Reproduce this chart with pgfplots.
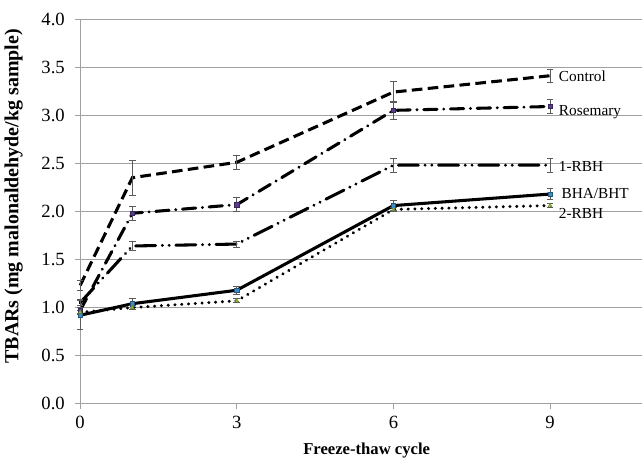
\documentclass[border=0pt]{standalone}
\usepackage{pgfplots}
\pgfplotsset{compat=1.18}
\usepackage{fontspec}
\setmainfont{Liberation Serif}
\definecolor{gridgray}{RGB}{160,160,160}
\definecolor{errgray}{RGB}{90,90,90}
\definecolor{rosecol}{RGB}{90,60,140}
\definecolor{bhacol}{RGB}{60,140,200}
\definecolor{rbhcol}{RGB}{150,190,60}
\begin{document}
\begin{tikzpicture}[x=1pt,y=1pt]
\begin{axis}[
  scale only axis,
  width=422pt, height=289pt,
  xmin=0, xmax=10.76, ymin=0, ymax=4,
  axis x line=bottom, axis y line=left,
  axis line style={gridgray, -, line width=0.6pt},
  xtick={0,3,6,9}, ytick={0,0.5,...,4},
  yticklabel style={xshift=-4pt, /pgf/number format/.cd, fixed, fixed zerofill, precision=1},
  xticklabel style={yshift=-2pt},
  /pgf/number format/assume math mode=true,
  tick align=outside, major tick length=4pt,
  tick style={gridgray, line width=0.6pt},
  ymajorgrids, grid style={gridgray, line width=0.6pt},
  ticklabel style={font=\fontsize{14}{16}\selectfont},
  xlabel={\textbf{Freeze-thaw cycle}},
  ylabel={\textbf{TBARs (mg malonaldehyde/kg sample)}},
  xlabel style={font=\fontsize{12.5}{14}\selectfont, at={(axis description cs:0.51,-0.122)}, anchor=center},
  ylabel style={font=\fontsize{15}{17}\selectfont, at={(axis description cs:-0.1185,0.539)}, anchor=center},
  clip=false,
  error bars/y dir=both, error bars/y explicit,
  error bars/error bar style={errgray, line width=0.6pt, solid},
  error bars/error mark options={errgray, rotate=90, mark size=2.5pt, line width=0.6pt},
]
% Control
\addplot[black, line width=2.3pt, dash pattern=on 8pt off 4pt, mark=none]
  coordinates {(0,1.23) +- (0,0.05) (1,2.35) +- (0,0.18) (3,2.51) +- (0,0.07) (6,3.24) +- (0,0.11) (9,3.41) +- (0,0.07)};
% Rosemary
\addplot[black, line width=2.3pt, line cap=round, dash pattern=on 10pt off 5pt on 0.1pt off 5pt,
  mark=square*, mark size=1.6pt, mark options={solid, fill=rosecol, draw=rosecol!60!black, line width=0.3pt}]
  coordinates {(0,0.97) +- (0,0.03) (1,1.98) +- (0,0.07) (3,2.07) +- (0,0.07) (6,3.05) +- (0,0.09) (9,3.09) +- (0,0.07)};
% 1-RBH
\addplot[black, line width=2.3pt, line cap=round, dash pattern=on 15pt off 5pt on 0.1pt off 5pt on 0.1pt off 5pt, mark=none]
  coordinates {(0,1.05) +- (0,0.03) (1,1.64) +- (0,0.05) (3,1.66) +- (0,0.03) (6,2.48) +- (0,0.07) (9,2.48) +- (0,0.07)};
% BHA/BHT
\addplot[black, line width=2.3pt, solid,
  mark=square*, mark size=1.6pt, mark options={solid, fill=bhacol, draw=bhacol!60!black, line width=0.3pt}]
  coordinates {(0,0.92) +- (0,0.15) (1,1.04) +- (0,0.06) (3,1.18) +- (0,0.04) (6,2.06) +- (0,0.05) (9,2.18) +- (0,0.06)};
% 2-RBH
\addplot[black, line width=2.4pt, line cap=round, dash pattern=on 0.1pt off 5pt,
  mark=triangle*, mark size=1.7pt, mark options={solid, fill=rbhcol, draw=rbhcol!70!black, line width=0.3pt}]
  coordinates {(0,0.95) +- (0,0.02) (1,1.00) +- (0,0.02) (3,1.07) +- (0,0.02) (6,2.02) +- (0,0.02) (9,2.06) +- (0,0.02)};
\node[anchor=west, font=\fontsize{11.5}{13}\selectfont] at (axis cs:9.08,3.40) {Control};
\node[anchor=west, font=\fontsize{11.5}{13}\selectfont] at (axis cs:9.08,3.03) {Rosemary};
\node[anchor=west, font=\fontsize{11.5}{13}\selectfont] at (axis cs:9.08,2.47) {1-RBH};
\node[anchor=west, font=\fontsize{11.5}{13}\selectfont] at (axis cs:9.13,2.19) {BHA/BHT};
\node[anchor=west, font=\fontsize{11.5}{13}\selectfont] at (axis cs:9.08,1.98) {2-RBH};
\end{axis}
\useasboundingbox (current axis.south west) ++(-59.25pt,-37.5pt) rectangle ([xshift=1.5pt,yshift=14.25pt]current axis.north east);
\end{tikzpicture}
\end{document}
